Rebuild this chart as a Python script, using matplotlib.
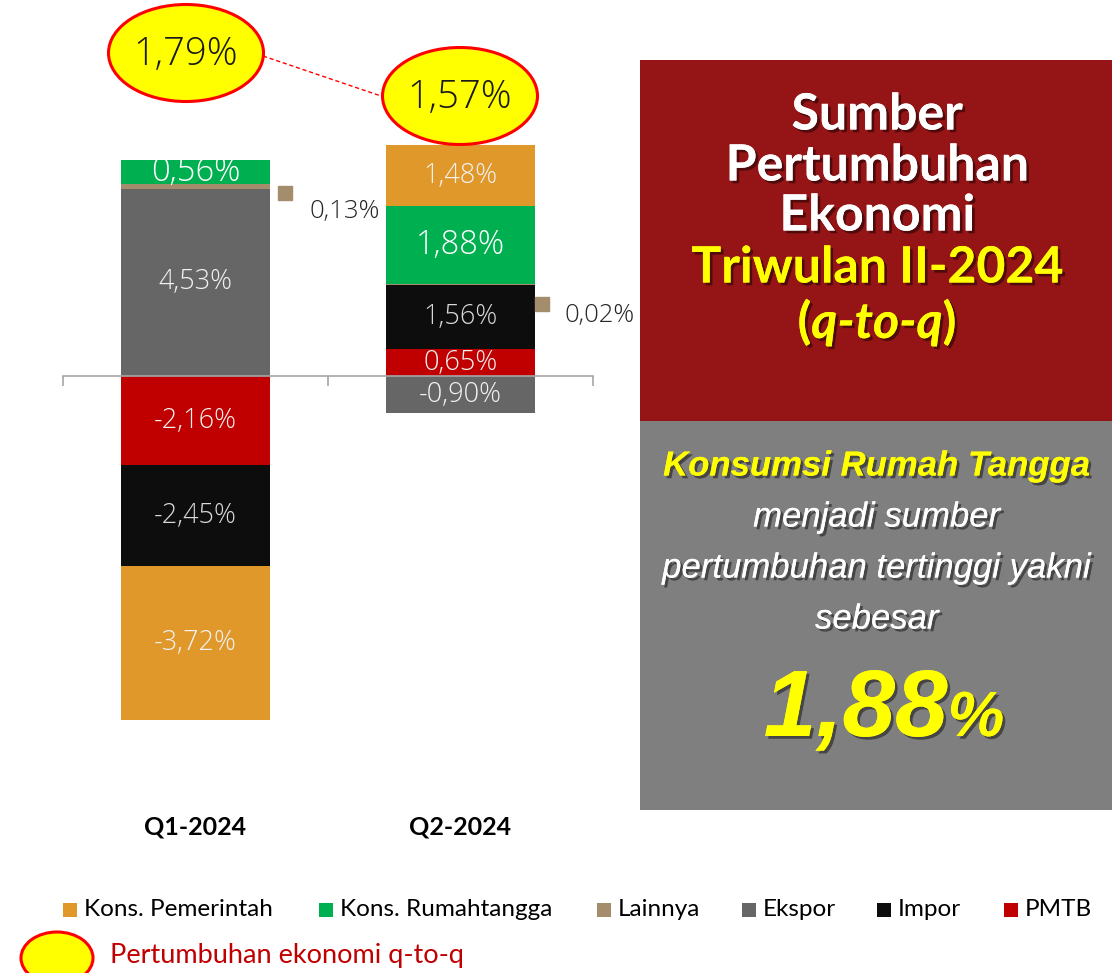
import matplotlib
matplotlib.use('Agg')
import matplotlib.pyplot as plt
from matplotlib.patches import Ellipse, Rectangle
import matplotlib.patheffects as pe
import matplotlib.transforms as mtransforms
import numpy as np

# ---------------- data ----------------
categories = ['Q1-2024', 'Q2-2024']
# stacking order (from axis outward)
stack_order = ['PMTB', 'Impor', 'Ekspor', 'Lainnya', 'Kons. Rumahtangga', 'Kons. Pemerintah']
pmtb = [-2.16, 0.65]
impor = [-2.45, 1.56]
ekspor = [4.53, -0.90]
lainnya = [0.13, 0.02]
kons_rt = [0.56, 1.88]
kons_pem = [-3.72, 1.48]
growth_qtq = [1.79, 1.57]
legend_order = ['Kons. Pemerintah', 'Kons. Rumahtangga', 'Lainnya', 'Ekspor', 'Impor', 'PMTB']
values = {'PMTB': pmtb, 'Impor': impor, 'Ekspor': ekspor, 'Lainnya': lainnya,
          'Kons. Rumahtangga': kons_rt, 'Kons. Pemerintah': kons_pem}
highlight_value = 1.88

colors = {'Kons. Pemerintah': '#E0982A', 'Kons. Rumahtangga': '#00B050', 'Lainnya': '#A38D6D',
          'Ekspor': '#666666', 'Impor': '#0D0D0D', 'PMTB': '#C00000'}

def fmt(v):
    return f"{v:.2f}".replace('.', ',') + '%'

W, H = 1116, 973
fig = plt.figure(figsize=(W / 100, H / 100), dpi=100)
fig.patch.set_facecolor('white')

def px_axes(left, top, width, height):
    return fig.add_axes([left / W, 1 - (top + height) / H, width / W, height / H])

# main chart axes
ZERO_PX = 376
PX_PER_UNIT = 41.3
AX_TOP, AX_H = 140, 600
ax = px_axes(63, AX_TOP, 530, AX_H)
ax.set_xlim(-0.5, 1.5)
ax.set_ylim((ZERO_PX - (AX_TOP + AX_H)) / PX_PER_UNIT, (ZERO_PX - AX_TOP) / PX_PER_UNIT)
ax.set_facecolor('none')
ax.set_zorder(1)

bar_w = 0.56
x = np.arange(len(categories))
pos_base = np.zeros(len(categories))
neg_base = np.zeros(len(categories))
label_font = ['Open Sans', 'DejaVu Sans']

seg_centers = {}
for name in stack_order:
    vals = values[name]
    for i, v in enumerate(vals):
        if v >= 0:
            b = pos_base[i]
            pos_base[i] += v
        else:
            b = neg_base[i]
            neg_base[i] += v
        ax.bar(x[i], v, bottom=b, width=bar_w, color=colors[name], edgecolor='none', zorder=1)
        seg_centers[(name, i)] = b + v / 2
        if name == 'Lainnya':
            continue
        if name == 'Kons. Rumahtangga':
            size, col = 23.5, 'white'
        elif name == 'Impor':
            size, col = 19.5, '#d9d9d9'
        else:
            size, col = 19.5, '#f2f2f2'
        ax.text(x[i], b + v / 2, fmt(v), ha='center', va='center', fontsize=size, color=col,
                family=label_font, fontweight='light', zorder=3)

# Lainnya outside labels with legend key
lain_offsets = [((15.5, -7), (40, -25)), ((7, -20), (30, -31))]
for i, v in enumerate(lainnya):
    yc = seg_centers[('Lainnya', i)]
    xe = x[i] + bar_w / 2
    (mdx, mdy), (tdx, tdy) = lain_offsets[i]
    tr_m = mtransforms.offset_copy(ax.transData, fig=fig, x=mdx, y=mdy, units='dots')
    ax.plot([xe], [yc], marker='s', ms=10.5, color=colors['Lainnya'], transform=tr_m,
            clip_on=False, zorder=3)
    tr_t = mtransforms.offset_copy(ax.transData, fig=fig, x=tdx, y=tdy, units='dots')
    ax.text(xe, yc, fmt(v), transform=tr_t, ha='left', va='center', fontsize=18.5,
            color='#262626', family=label_font, fontweight='light', clip_on=False, zorder=3)

# axis
for s in ['top', 'left', 'right']:
    ax.spines[s].set_visible(False)
ax.spines['bottom'].set_position(('data', 0))
ax.spines['bottom'].set_color('#a6a6a6')
ax.spines['bottom'].set_linewidth(1.2)
ax.spines['bottom'].set_zorder(2)
ax.set_xticks([-0.5, 0.5, 1.5])
ax.tick_params(axis='x', length=7, color='#a6a6a6', width=1.2, labelbottom=False)
ax.set_yticks([])

# category labels
for i, c in enumerate(categories):
    ax.text(x[i], (ZERO_PX - 827) / PX_PER_UNIT, c, ha='center', va='center', fontsize=18,
            fontweight='bold', family=['Lato', 'DejaVu Sans'], clip_on=False)

# ---------------- overlay ----------------
ov = fig.add_axes([0, 0, 1, 1])
ov.set_xlim(0, W)
ov.set_ylim(H, 0)
ov.axis('off')
ov.set_zorder(3)

# growth ellipses
ell_centers = [(186, 53), (460, 96)]
ov.plot([263, 384], [56, 97], ls=(0, (3, 2)), color='#ff0000', lw=1)
for (cx, cy), g in zip(ell_centers, growth_qtq):
    ov.add_patch(Ellipse((cx, cy), 155, 97, fc='#ffff00', ec='#ff0000', lw=2.2, zorder=4))
    ov.text(cx, cy + 2, fmt(g), ha='center', va='center', fontsize=27.5, color='#1a1a1a',
            family=label_font, fontweight='light', zorder=5)

# right panel
ov.add_patch(Rectangle((640, 60), 472, 361, fc='#951416', ec='none'))
ov.add_patch(Rectangle((640, 421), 472, 389, fc='#7f7f7f', ec='none'))

shadow = [pe.withSimplePatchShadow(offset=(2, -2), shadow_rgbFace='black', alpha=0.45), pe.Normal()]
title_font = ['Lato', 'DejaVu Sans']
cxp = 877
for txt, yy, col in [('Sumber', 115, 'white'), ('Pertumbuhan', 166, 'white'),
                     ('Ekonomi', 216, 'white'), ('Triwulan II-2024', 268, '#ffff00')]:
    ov.text(cxp, yy, txt, ha='center', va='center', fontsize=36, fontweight='bold',
            color=col, family=title_font, path_effects=shadow)

fig.canvas.draw()
renderer = fig.canvas.get_renderer()

def pieces_centered(cx, y, pieces):
    arts = []
    for txt, kw in pieces:
        t = ov.text(0, y, txt, ha='left', va='baseline', **kw)
        arts.append(t)
    widths = [a.get_window_extent(renderer).width for a in arts]
    total = sum(widths)
    xs = cx - total / 2
    for a, w in zip(arts, widths):
        a.set_x(xs)
        xs += w
    return arts

common_t = dict(fontsize=36, fontweight='bold', color='#ffff00', family=title_font, path_effects=shadow)
pieces_centered(cxp, 338, [('(', common_t), ('q-to-q', dict(common_t, style='italic')), (')', common_t)])

sans = ['Liberation Sans', 'DejaVu Sans']
ov.text(cxp, 466, 'Konsumsi Rumah Tangga', ha='center', va='center', fontsize=25,
        fontweight='bold', style='italic', color='#ffff00', family=sans, path_effects=shadow)
for txt, yy in [('menjadi sumber', 517), ('pertumbuhan tertinggi yakni', 568), ('sebesar', 619)]:
    ov.text(cxp, yy, txt, ha='center', va='center', fontsize=25, style='italic',
            color='white', family=sans, path_effects=shadow)
big = dict(fontweight='bold', style='italic', color='#ffff00', family=sans, path_effects=shadow)
pieces_centered(884, 736, [(fmt(highlight_value)[:-1], dict(big, fontsize=68)), ('%', dict(big, fontsize=46))])

# legend
leg_x = [63, 319, 597, 742, 877, 1004]
leg_font = ['Lato', 'DejaVu Sans']
for lx, name in zip(leg_x, legend_order):
    ov.add_patch(Rectangle((lx, 903), 14, 14, fc=colors[name], ec='none'))
    ov.text(lx + 21, 910, name, ha='left', va='center', fontsize=17.5, color='black', family=leg_font)

ov.add_patch(Ellipse((57, 958), 72, 52, fc='#ffff00', ec='#ff0000', lw=2.2, clip_on=False))
ov.text(110, 956, 'Pertumbuhan ekonomi q-to-q', ha='left', va='center', fontsize=19.5,
        color='#C00000', family=leg_font)

fig.savefig('out.png', dpi=100, facecolor='white')
